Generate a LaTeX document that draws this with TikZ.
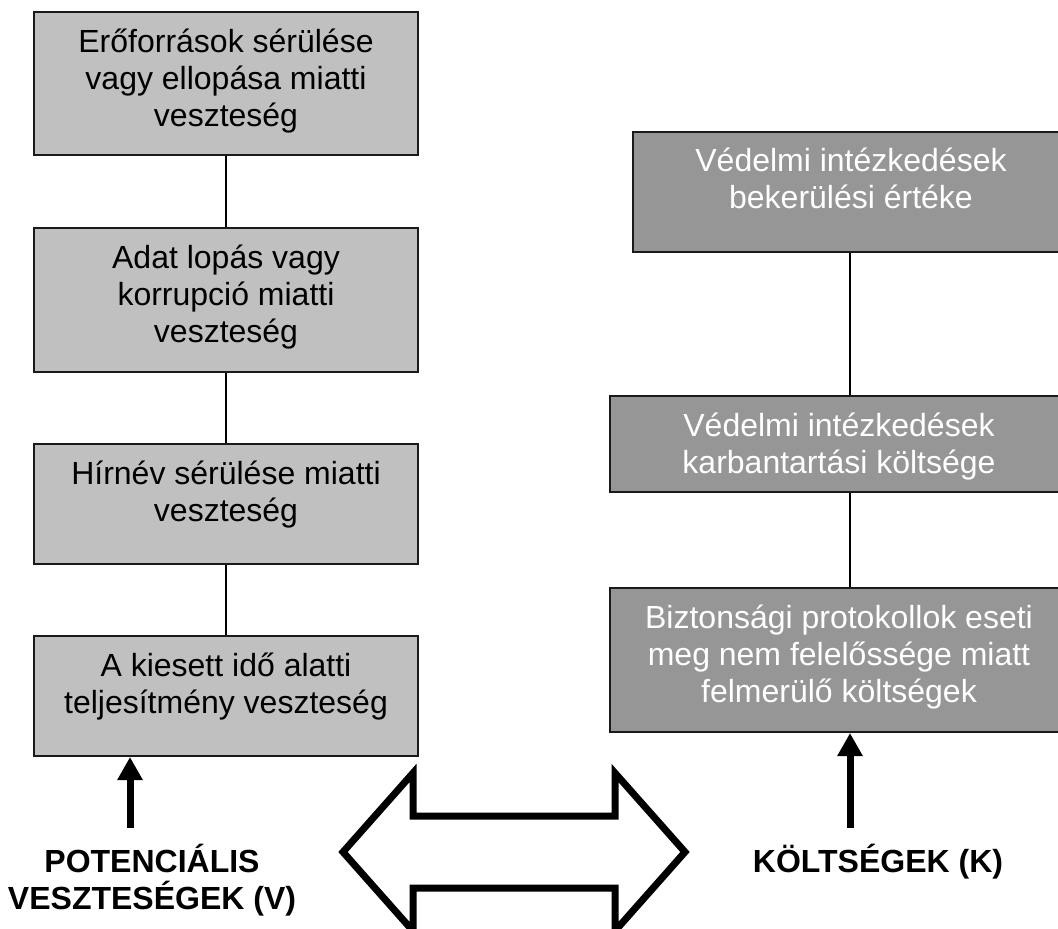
\documentclass[tikz,border=0pt]{standalone}
\usepackage{fontspec}
\setmainfont{Liberation Sans}
\usetikzlibrary{arrows.meta}

\definecolor{lossfill}{HTML}{C0C0C0}
\definecolor{costfill}{HTML}{969696}
\definecolor{edge}{HTML}{1A1A1A}

% first-line-baseline text block, centred lines
\newcommand{\blocktext}[2]{\parbox[t]{#1}{\centering\fontsize{32}{37}\selectfont #2}}

\begin{document}
\begin{tikzpicture}[x=1pt,y=-1pt,
  lossbox/.style={draw=edge, line width=2pt, fill=lossfill, inner sep=0pt, minimum width=384pt},
  costbox/.style={draw=edge, line width=2pt, fill=costfill, inner sep=0pt},
  boxtext/.style={anchor=base, inner sep=0pt},
  link/.style={draw=black, line width=1.5pt},
  uparrow/.style={line width=7pt, -{Triangle[width=24pt,length=23pt]}},
  bigcaption/.style={anchor=base, inner sep=0pt, font=\bfseries}
]
\useasboundingbox (0,0) rectangle (1058,929);
\clip (0,0) rectangle (1058,929);

% left column: potential losses
\node[lossbox, minimum height=143pt] (L1) at (226,83.5) {};
\node[lossbox, minimum height=144pt] (L2) at (226,300) {};
\node[lossbox, minimum height=120pt] (L3) at (226,504) {};
\node[lossbox, minimum height=120pt] (L4) at (226,696) {};

\node[boxtext] (L1t) at (226,52) {\blocktext{380pt}{Erőforrások sérülése\\vagy ellopása miatti\\veszteség}};
\node[boxtext] (L2t) at (226,268) {\blocktext{380pt}{Adat lopás vagy\\korrupció miatti\\veszteség}};
\node[boxtext] (L3t) at (226,484) {\blocktext{380pt}{Hírnév sérülése miatti\\veszteség}};
\node[boxtext] (L4t) at (226,676) {\blocktext{380pt}{A kiesett idő alatti\\teljesítmény veszteség}};

\draw[link] (L1) -- (L2);
\draw[link] (L2) -- (L3);
\draw[link] (L3) -- (L4);

% right column: costs
\node[costbox, minimum width=435pt, minimum height=120pt] (R1) at (850.5,192) {};
\node[costbox, minimum width=458pt, minimum height=96pt] (R2) at (839,444) {};
\node[costbox, minimum width=458pt, minimum height=144pt] (R3) at (839,660) {};

\node[boxtext, text=white] (R1t) at (851,171) {\blocktext{450pt}{Védelmi intézkedések\\bekerülési értéke}};
\node[boxtext, text=white] (R2t) at (839,436) {\blocktext{450pt}{Védelmi intézkedések\\karbantartási költsége}};
\node[boxtext, text=white] (R3t) at (839,628) {\blocktext{450pt}{Biztonsági protokollok eseti\\meg nem felelőssége miatt\\felmerülő költségek}};

\coordinate (rlink) at (850,192);
\draw[link] (rlink |- R1.south) -- (rlink |- R2.north);
\draw[link] (rlink |- R2.south) -- (rlink |- R3.north);

% captions with their arrows
\node[bigcaption] (pv) at (152,872) {\blocktext{320pt}{POTENCIÁLIS\\VESZTESÉGEK (V)}};
\node[bigcaption] (kk) at (878,872) {\blocktext{320pt}{KÖLTSÉGEK (K)}};

\coordinate (pvfoot) at (130,828);
\coordinate (kkfoot) at (850,828);
\draw[uparrow] (pvfoot) -- (pvfoot |- L4.south);
\draw[uparrow] (kkfoot) -- (kkfoot |- R3.south);

% hollow double-headed arrow between the two sides
\coordinate (dl) at (343,852);
\coordinate (dr) at (685,852);
\draw[line width=7pt, line join=miter, fill=white]
  (dl) -- (413,773) -- (413,816) -- (615,816) -- (615,773) -- (dr)
  -- (615,931) -- (615,888) -- (413,888) -- (413,931) -- cycle;
\end{tikzpicture}
\end{document}
